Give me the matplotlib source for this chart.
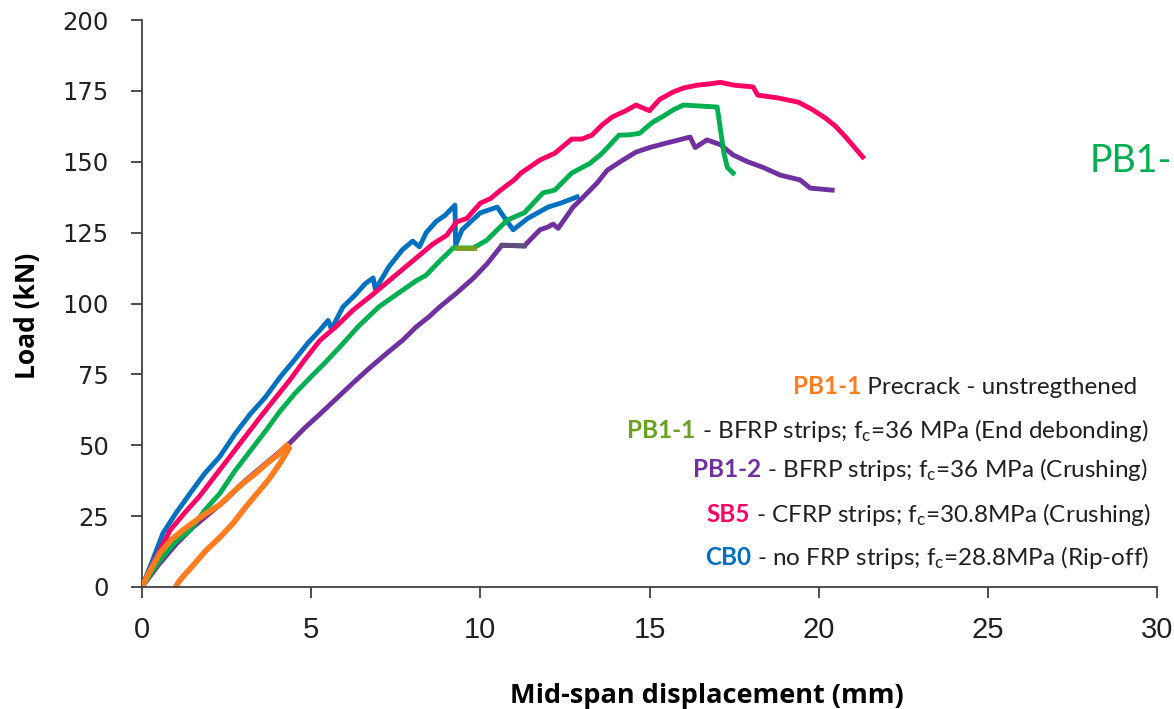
import matplotlib
matplotlib.use("Agg")
import matplotlib.pyplot as plt

# ---------------- data ----------------
cb0_x = [0, 0.3, 0.62, 1.0, 1.42, 1.85, 2.3, 2.75, 3.2, 3.65, 4.08, 4.5, 4.9, 5.26, 5.5, 5.6,
         5.94, 6.3, 6.6, 6.83, 6.9, 7.3, 7.7, 8.0, 8.2, 8.4, 8.7, 8.95, 9.25, 9.27, 9.46, 10.0,
         10.5, 10.7, 10.97, 11.4, 12.0, 12.4, 12.86]
cb0_y = [0, 9, 19, 26, 33, 40, 46, 54, 61, 67, 74, 80, 86, 90.6, 94, 91,
         98.8, 103, 107, 109, 105, 113, 119, 122, 120, 125, 129, 131, 134.7, 120.6, 126, 132,
         134, 130.5, 126, 130, 134, 135.5, 137.6]

sb5_x = [0, 0.4, 0.83, 1.25, 1.7, 2.15, 2.6, 3.05, 3.5, 3.9, 4.37, 4.8, 5.26, 5.75, 6.24, 6.8,
         7.4, 8.0, 8.6, 9.0, 9.3, 9.6, 10.0, 10.3, 10.6, 11.0, 11.2, 11.76, 12.2, 12.7, 13.0,
         13.3, 13.6, 13.9, 14.3, 14.6, 15.0, 15.3, 15.7, 16.0, 16.4, 16.8, 17.1, 17.5, 18.06,
         18.2, 18.8, 19.4, 19.8, 20.2, 20.5, 20.8, 21.3]
sb5_y = [0, 10, 20, 26, 32, 39, 46, 53, 60, 66, 73, 80, 87, 92, 97.7, 103,
         109, 115, 121, 124, 128.8, 130, 135.4, 137, 140, 143.6, 146, 150.6, 153, 158, 158,
         159.4, 163, 165.8, 168, 170, 168, 172, 174.6, 176, 177, 177.5, 178, 177, 176.4,
         173.5, 172.5, 171, 168.5, 165.4, 162.5, 158.7, 151.7]

pb12_x = [0, 0.5, 1.0, 1.5, 2.0, 2.5, 3.0, 3.5, 4.0, 4.37, 4.8, 5.26, 5.75, 6.24, 6.7, 7.24,
          7.7, 8.1, 8.5, 8.8, 9.3, 9.8, 10.2, 10.64, 11.3, 11.76, 12.0, 12.15, 12.3, 12.74,
          13.0, 13.45, 13.75, 14.2, 14.6, 15.0, 15.5, 16.2, 16.35, 16.7, 17.1, 17.47, 17.9,
          18.36, 18.86, 19.45, 19.75, 20.4]
pb12_y = [0, 8, 15, 21, 26, 31, 37, 42, 47, 50.8, 56, 61, 66.5, 72, 77, 82.5,
          87, 91.7, 95.5, 98.8, 103.7, 109, 114, 120.6, 120.3, 126, 127, 128, 126.5, 134,
          137, 142.5, 147, 150.5, 153.4, 155, 156.6, 158.7, 155, 157.7, 156, 152.4, 150,
          148, 145.3, 143.6, 140.7, 140]
pb12_flat_x = [10.64, 11.3]
pb12_flat_y = [120.5, 120.3]

pb11_x = [0, 0.5, 1.0, 1.42, 1.85, 2.3, 2.75, 3.2, 3.65, 4.08, 4.5, 4.9, 5.4, 5.85, 6.4, 7.0,
          7.5, 8.1, 8.4, 8.8, 9.2, 9.8, 10.2, 10.5, 10.8, 11.0, 11.3, 11.85, 12.2, 12.7,
          13.25, 13.6, 14.1, 14.4, 14.7, 15.1, 15.4, 15.7, 16.0, 17.0, 17.09, 17.2, 17.3, 17.47]
pb11_y = [0, 9, 16, 20, 27, 33, 41, 48, 55, 62, 68, 73, 79, 84.7, 92, 98.8,
          103, 108, 110, 115, 119.6, 119.6, 122.4, 126, 129.4, 130.5, 132, 139, 140, 146,
          149.5, 153, 159.4, 159.5, 160, 164, 166, 168.3, 170, 169.3, 162, 153, 148, 146]
pb11_flat_x = [9.3, 9.8]
pb11_flat_y = [119.6, 119.6]

pre_x = [0, 0.25, 0.53, 0.85, 1.2, 1.6, 1.9, 2.3, 2.65, 3.0, 3.35, 3.7, 4.0, 4.28, 4.35,
         4.2, 4.08, 3.75, 3.4, 3.05, 2.7, 2.3, 1.9, 1.5, 1.2, 1.06, 1.02]
pre_y = [0, 6, 12, 16.5, 20, 23.5, 26, 29, 33, 36.7, 40, 43.7, 46.5, 50, 49,
         46, 43.7, 38, 33, 28, 22.6, 17.5, 13, 7.5, 3.5, 1.4, 0.5]

xticks = [0, 5, 10, 15, 20, 25, 30]
yticks = [0, 25, 50, 75, 100, 125, 150, 175, 200]

leg_labels = ["PB1-1", "PB1-1", "PB1-2", "SB5", "CB0"]
leg_texts = [" Precrack - unstregthened",
             " - BFRP strips; $\\mathrm{f_c}$=36 MPa (End debonding)",
             " - BFRP strips; $\\mathrm{f_c}$=36 MPa (Crushing)",
             " - CFRP strips; $\\mathrm{f_c}$=30.8MPa (Crushing)",
             " - no FRP strips; $\\mathrm{f_c}$=28.8MPa (Rip-off)"]
leg_colors = ["#FF7C1F", "#6AA121", "#7030A0", "#FF0066", "#0070C0"]

plt.rcParams["mathtext.fontset"] = "custom"
plt.rcParams["mathtext.rm"] = "Lato"
plt.rcParams["mathtext.it"] = "Lato:italic"

fig = plt.figure(figsize=(11.74, 7.09), dpi=100)
ax = fig.add_axes([142 / 1174, 1 - 587 / 709, 1015 / 1174, 567 / 709])

lw = 3.5
ax.plot(cb0_x, cb0_y, color="#0070C0", lw=lw, solid_joinstyle="round")
ax.plot(sb5_x, sb5_y, color="#FF0066", lw=lw, solid_joinstyle="round")
ax.plot(pb12_x, pb12_y, color="#7030A0", lw=lw, solid_joinstyle="round")
ax.plot(pb12_flat_x, pb12_flat_y, color="#5E4E7E", lw=lw)
ax.plot(pb11_x, pb11_y, color="#00B050", lw=lw, solid_joinstyle="round")
ax.plot(pb11_flat_x, pb11_flat_y, color="#7A9E1E", lw=lw)
ax.plot(pre_x, pre_y, color="#FF7C1F", lw=lw + 0.6, solid_joinstyle="round")

ax.set_xlim(0, 30)
ax.set_ylim(0, 200)
ax.set_xticks(xticks)
ax.set_yticks(yticks)
for s in ["top", "right"]:
    ax.spines[s].set_visible(False)
for s in ["left", "bottom"]:
    ax.spines[s].set_color("#404040")
    ax.spines[s].set_linewidth(1.3)
ax.spines["left"].set_zorder(0.5)
ax.tick_params(axis="both", direction="out", length=8, width=1.3, color="#404040")
ax.tick_params(axis="y", pad=16)
ax.tick_params(axis="x", pad=13)
for lab in ax.get_yticklabels():
    lab.set_fontfamily("DejaVu Sans")
    lab.set_fontsize(17.5)
    lab.set_color("#202020")
for lab in ax.get_xticklabels():
    lab.set_fontfamily("Liberation Sans")
    lab.set_fontsize(21)
    lab.set_color("#202020")

fig.text(28 / 1174, 1 - 316 / 709, "Load (kN)", rotation=90, ha="center", va="center",
         fontsize=19, fontweight="bold", family="Open Sans")
fig.text(510 / 1174, 1 - 703 / 709, "Mid-span displacement (mm)", ha="left", va="baseline",
         fontsize=19.5, fontweight="bold", family="Open Sans")
# partly outside the picture, as in the reference
fig.text(1090 / 1174, 1 - 172 / 709, "PB1-1", ha="left", va="baseline",
         fontsize=27, color="#00B050", family="Lato")

# legend written as coloured + black text, right aligned
leg_right = [1137, 1148, 1148, 1151, 1149]
leg_base = [394, 438, 477, 522, 565]
fig.canvas.draw()
renderer = fig.canvas.get_renderer()
inv = ax.transData.inverted()
for lbl, txt, c, xr, yb in zip(leg_labels, leg_texts, leg_colors, leg_right, leg_base):
    xd, yd = inv.transform((xr, 709 - yb))
    t = ax.text(xd, yd, txt, ha="right", va="baseline", fontsize=17.5, family="Lato",
                color="#202020", clip_on=False)
    bb = t.get_window_extent(renderer)
    x0 = inv.transform((bb.x0, 0))[0]
    ax.text(x0, yd, lbl, ha="right", va="baseline", fontsize=17.5, family="Lato",
            fontweight="bold", color=c, clip_on=False)

fig.savefig("out.png", dpi=100)
